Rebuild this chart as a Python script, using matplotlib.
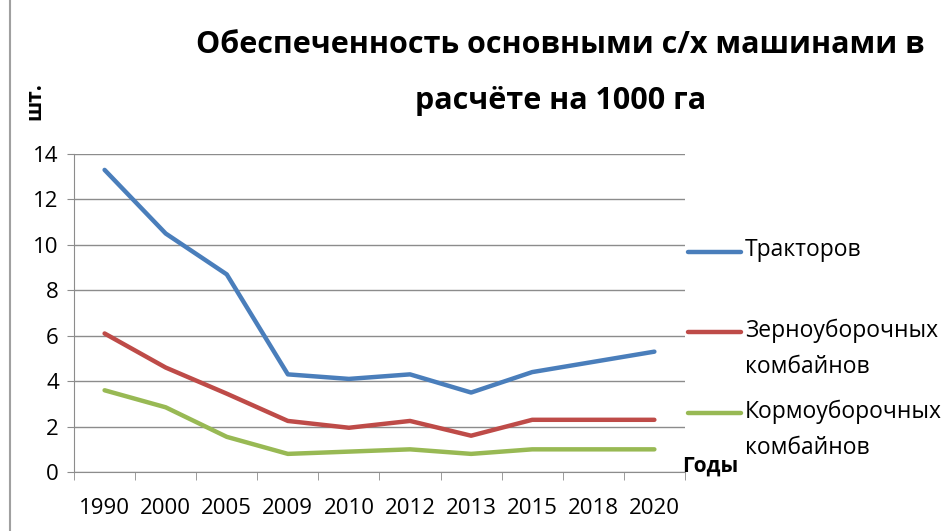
import matplotlib.pyplot as plt
from matplotlib.lines import Line2D

plt.rcParams['font.family'] = ['Open Sans', 'DejaVu Sans']

# data
years = ['1990', '2000', '2005', '2009', '2010', '2012', '2013', '2015', '2018', '2020']
tractors = [13.3, 10.5, 8.7, 4.3, 4.1, 4.3, 3.5, 4.4, 4.85, 5.3]
grain_combines = [6.1, 4.6, 3.45, 2.25, 1.95, 2.25, 1.6, 2.3, 2.3, 2.3]
forage_combines = [3.6, 2.85, 1.55, 0.8, 0.9, 1.0, 0.8, 1.0, 1.0, 1.0]
series_names = ['Тракторов', 'Зерноуборочных\nкомбайнов', 'Кормоуборочных\nкомбайнов']

colors = ['#4A7EBB', '#BE4B48', '#98B954']
grid_col = '#8C8C8C'

fig = plt.figure(figsize=(9.53, 5.31), dpi=100)
ax = fig.add_axes([0.0777, 0.111, 0.641, 0.599])

x = list(range(len(years)))
for vals, c in zip([tractors, grain_combines, forage_combines], colors):
    ax.plot(x, vals, color=c, lw=3.2, solid_capstyle='round', solid_joinstyle='round')

ax.set_xlim(-0.5, len(years) - 0.5)
ax.set_ylim(0, 14)
ax.set_yticks(range(0, 15, 2))
ax.yaxis.grid(True, color=grid_col, lw=1)
ax.set_axisbelow(True)

ax.set_xticks(x)
ax.set_xticklabels(years)
ax.set_xticks([i - 0.5 for i in range(len(years) + 1)], minor=True)
ax.tick_params(axis='x', which='major', length=0, pad=19, labelsize=16)
ax.tick_params(axis='x', which='minor', length=6, color=grid_col, direction='out')
ax.tick_params(axis='y', length=5, color=grid_col, pad=6, labelsize=16)

for s in ['top', 'right']:
    ax.spines[s].set_visible(False)
for s in ['left', 'bottom']:
    ax.spines[s].set_color(grid_col)

# title and axis captions
fig.text(0.588, 0.915, 'Обеспеченность основными с/х машинами в',
         ha='center', va='center', fontsize=22, fontweight='bold')
fig.text(0.588, 0.81, 'расчёте на 1000 га',
         ha='center', va='center', fontsize=22, fontweight='bold')
fig.text(0.037, 0.81, 'шт.', rotation=90, ha='center', va='center',
         fontsize=15, fontweight='bold')
fig.text(0.716, 0.122, 'Годы', ha='left', va='center', fontsize=15, fontweight='bold')

# legend drawn by hand to keep the Excel spacing
leg_y = [252, 332, 413]
for name, c, yy in zip(series_names, colors, leg_y):
    yf = 1 - yy / 531
    fig.add_artist(Line2D([0.722, 0.778], [yf, yf], color=c, lw=3.2,
                          solid_capstyle='round'))
    fig.text(0.782, yf + 0.026, name, ha='left', va='top', fontsize=16.5,
             linespacing=1.7)

# chart frame line on the left
fig.add_artist(Line2D([0.011, 0.011], [0, 1], color='#A0A0A0', lw=1.5))

fig.savefig('out.png', dpi=100)
